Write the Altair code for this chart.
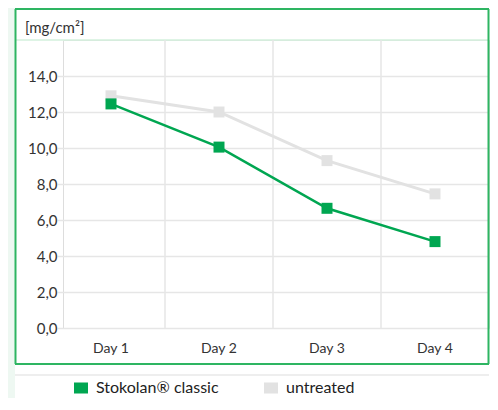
import altair as alt
import pandas as pd

days = ["Day 1", "Day 2", "Day 3", "Day 4"]
stokolan = [12.45, 10.05, 6.65, 4.8]
untreated = [12.9, 12.0, 9.3, 7.45]
series_names = ["Stokolan® classic", "untreated"]
series_colors = ["#00a651", "#e2e2e2"]
y_ticks = [0, 2, 4, 6, 8, 10, 12, 14]
unit_label = "[mg/cm²]"

rows = []
for name, vals in zip(series_names, [stokolan, untreated]):
    for d, v in zip(days, vals):
        rows.append({"day": d, "value": v, "series": name})
df = pd.DataFrame(rows)
sep_df = pd.DataFrame({"day": days[1:]})
one = pd.DataFrame({"k": [0]})

W, H = 426, 288
FONT = "Lato"
GREEN_FRAME = "#2eb562"

xscale = alt.Scale(type="band", domain=days, range=[-6, 426], paddingInner=0, paddingOuter=0)
yscale = alt.Scale(domain=[0, 16], nice=False)

xaxis = alt.Axis(title=None, grid=False, domain=False, ticks=False, labelAngle=0,
                 labelFont=FONT, labelFontSize=14, labelColor="#333333", labelPadding=13)
yaxis = alt.Axis(title=None, values=y_ticks, domain=False, ticks=False,
                 labelExpr="replace(format(datum.value, '.1f'), '.', ',')",
                 labelFont=FONT, labelFontSize=15, labelColor="#333333", labelPadding=6,
                 gridColor="#e6e6e6", gridWidth=1.5)

legend = alt.Legend(orient="none", legendX=10, legendY=340, direction="horizontal", title=None,
                    symbolType="M-1,-0.786H1V0.786H-1Z", symbolSize=196, symbolStrokeWidth=0,
                    labelFont=FONT, labelFontSize=16, labelColor="#222222", labelOffset=7,
                    columnPadding=44, padding=0)
color = alt.Color("series:N", scale=alt.Scale(domain=series_names, range=series_colors), legend=legend)

x_enc = alt.X("day:N", scale=xscale, axis=xaxis, sort=days)
y_enc = alt.Y("value:Q", scale=yscale, axis=yaxis)

# decorations
strip = alt.Chart(one).mark_rect(color="#eef8f2").encode(
    x=alt.value(-55), x2=alt.value(-48), y=alt.value(-32), y2=alt.value(360))
frame_left = alt.Chart(one).mark_rule(color=GREEN_FRAME, strokeWidth=2).encode(
    x=alt.value(-47.5), y=alt.value(-31), y2=alt.value(324))
frame_right = alt.Chart(one).mark_rule(color=GREEN_FRAME, strokeWidth=2).encode(
    x=alt.value(425.5), y=alt.value(-31), y2=alt.value(324))
frame_top = alt.Chart(one).mark_rule(color=GREEN_FRAME, strokeWidth=2).encode(
    x=alt.value(-48), x2=alt.value(426), y=alt.value(-31))
frame_bottom = alt.Chart(one).mark_rule(color=GREEN_FRAME, strokeWidth=2).encode(
    x=alt.value(-48), x2=alt.value(426), y=alt.value(324))
header_line = alt.Chart(one).mark_rule(color="#d3f1dd", strokeWidth=1.5).encode(
    x=alt.value(-47), x2=alt.value(425), y=alt.value(0))
below_line = alt.Chart(one).mark_rule(color="#e8e8e8", strokeWidth=1.5).encode(
    x=alt.value(-48), x2=alt.value(426), y=alt.value(335))
header_text = alt.Chart(one).mark_text(align="left", baseline="alphabetic", font=FONT,
                                       fontSize=15, color="#333333").encode(
    x=alt.value(-38), y=alt.value(-7), text=alt.value(unit_label))

seps = alt.Chart(sep_df).mark_rule(color="#e6e6e6", strokeWidth=1.5).encode(
    x=alt.X("day:N", scale=xscale, axis=xaxis, sort=days, bandPosition=0))

base = alt.Chart(df).encode(x=x_enc, y=y_enc, color=color)
gray_line = base.transform_filter(alt.datum.series == series_names[1]).mark_line(strokeWidth=3)
gray_pts = base.transform_filter(alt.datum.series == series_names[1]).mark_square(size=121, opacity=1)
green_line = base.transform_filter(alt.datum.series == series_names[0]).mark_line(strokeWidth=2.5)
green_pts = base.transform_filter(alt.datum.series == series_names[0]).mark_square(size=121, opacity=1)

chart = alt.layer(
    strip, header_line, below_line, frame_left, frame_right, frame_top, frame_bottom, header_text,
    seps, gray_line, gray_pts, green_line, green_pts
).properties(
    width=W, height=H,
    autosize=alt.AutoSizeParams(type="none"),
    padding={"left": 55, "top": 32, "right": 1, "bottom": 70},
    background="white",
).configure_view(stroke=None).configure(font=FONT)

chart.save("out.html", embed_options={"renderer": "svg", "actions": False})
